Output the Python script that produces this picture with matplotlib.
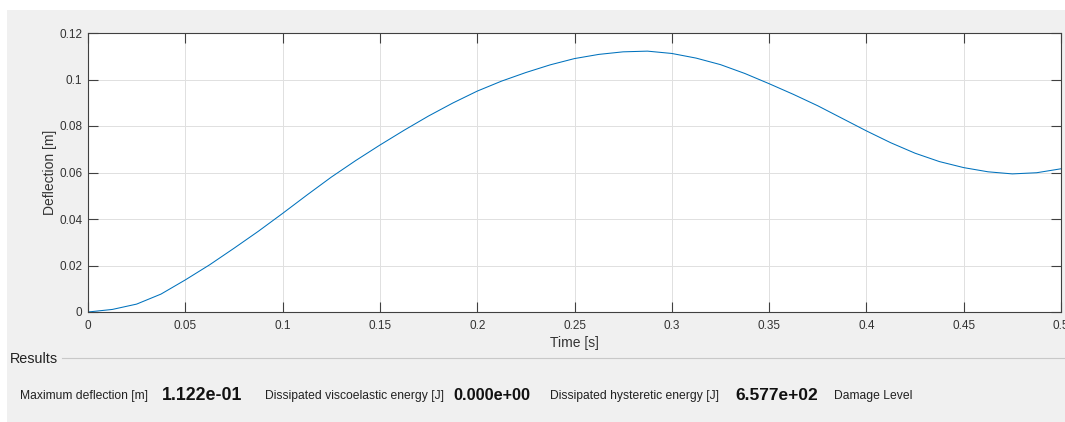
import numpy as np
import matplotlib
matplotlib.use("Agg")
import matplotlib.pyplot as plt
from matplotlib.patches import Rectangle
from matplotlib.lines import Line2D

plt.rcParams['font.family'] = ['Liberation Sans', 'DejaVu Sans']

# data
time_s = [0, 0.0125, 0.025, 0.0375, 0.05, 0.0625, 0.075, 0.0875, 0.1, 0.1125,
          0.125, 0.1375, 0.15, 0.1625, 0.175, 0.1875, 0.2, 0.2125, 0.225, 0.2375,
          0.25, 0.2625, 0.275, 0.2875, 0.3, 0.3125, 0.325, 0.3375, 0.35, 0.3625,
          0.375, 0.3875, 0.4, 0.4125, 0.425, 0.4375, 0.45, 0.4625, 0.475, 0.4875, 0.5]
deflection_m = [0, 0.0011, 0.0034, 0.0077, 0.0138, 0.0203, 0.0274, 0.0347, 0.0424, 0.0503,
                0.0580, 0.0651, 0.0718, 0.0782, 0.0843, 0.0899, 0.0950, 0.0993, 0.1030, 0.1063,
                0.1090, 0.1108, 0.1119, 0.1122, 0.1112, 0.1092, 0.1064, 0.1026, 0.0982, 0.0936,
                0.0887, 0.0833, 0.0779, 0.0728, 0.0683, 0.0647, 0.0621, 0.0603, 0.0594, 0.0599, 0.0616]

xticks = [0, 0.05, 0.1, 0.15, 0.2, 0.25, 0.3, 0.35, 0.4, 0.45, 0.5]
xtick_labels = ['0', '0.05', '0.1', '0.15', '0.2', '0.25', '0.3', '0.35', '0.4', '0.45', '0.5']
yticks = [0, 0.02, 0.04, 0.06, 0.08, 0.1, 0.12]
ytick_labels = ['0', '0.02', '0.04', '0.06', '0.08', '0.1', '0.12']

result_labels = ['Maximum deflection [m]', 'Dissipated viscoelastic energy [J]',
                 'Dissipated hysteretic energy [J]', 'Damage Level']
result_values = ['1.122e-01', '0.000e+00', '6.577e+02', '']

W, H = 1065, 422
fig = plt.figure(figsize=(W / 100, H / 100), dpi=100, facecolor='white')

def fx(px):
    return px / W

def fy(py):
    return 1 - py / H

# grey window panel
fig.patches.append(Rectangle((fx(7), 0), 1 - fx(7), fy(10), transform=fig.transFigure,
                             facecolor='#f0f0f0', edgecolor='none', zorder=-5))

ax = fig.add_axes([fx(88), fy(312), fx(1061) - fx(88), fy(33) - fy(312)])
ax.set_zorder(2)
ax.set_facecolor('white')
ax.plot(time_s, deflection_m, color='#0072BD', lw=0.75)

ax.set_xlim(0, 0.5)
ax.set_ylim(0, 0.12)
ax.set_xticks(xticks)
ax.set_xticklabels(xtick_labels)
ax.set_yticks(yticks)
ax.set_yticklabels(ytick_labels)
ax.grid(True, color='#e0e0e0', lw=0.7)
ax.set_axisbelow(True)
ax.tick_params(direction='in', length=7, width=0.8, color='#404040', labelcolor='#333333',
               labelsize=8.5, top=True, right=True)
ax.tick_params(axis='x', pad=6)
ax.tick_params(axis='y', pad=4)
for s in ax.spines.values():
    s.set_color('#404040')
    s.set_linewidth(0.8)
ax.set_xlabel('Time [s]', fontsize=10, color='#333333', labelpad=3)
ax.set_ylabel('Deflection [m]', fontsize=10, color='#333333', labelpad=2)

# results panel
fig.text(fx(10), fy(359), 'Results', fontsize=10.4, color='#222222', va='center', ha='left')
fig.add_artist(Line2D([fx(62), 1], [fy(358), fy(358)], transform=fig.transFigure,
                      color='#c8c8c8', lw=0.8))

label_x = [20, 265, 550, 834]
value_x = [162, 453, 735, None]
value_size = [12.8, 11.7, 12.5, None]
for i in range(4):
    fig.text(fx(label_x[i]), fy(396), result_labels[i], fontsize=8.7,
             color='#222222', va='center', ha='left')
    if value_x[i] is not None:
        fig.text(fx(value_x[i]), fy(395), result_values[i], fontsize=value_size[i],
                 fontweight='bold', color='#111111', va='center', ha='left')

fig.savefig('out.png', dpi=100, facecolor=fig.get_facecolor())
